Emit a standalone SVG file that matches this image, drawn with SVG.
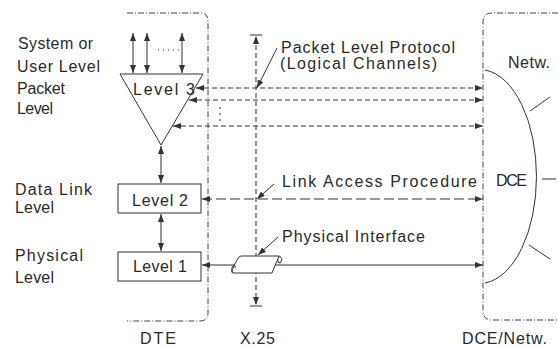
<svg xmlns="http://www.w3.org/2000/svg" width="558" height="348" viewBox="0 0 558 348">
<style>
text{font-family:"Liberation Sans",Arial,sans-serif;font-size:16px;fill:#2a2a2a}
.ln{fill:none;stroke:#333;stroke-width:1}
.dd{fill:none;stroke:#444;stroke-width:1;stroke-dasharray:6 2 1 2}
.ds{fill:none;stroke:#333;stroke-width:1;stroke-dasharray:5 3}
.dl{fill:none;stroke:#333;stroke-width:1;stroke-dasharray:10 4}
.box{fill:#fff;stroke:#333;stroke-width:1}
</style>
<defs>
<marker id="ah" viewBox="0 0 8 6" refX="8" refY="3" markerWidth="8" markerHeight="6" markerUnits="userSpaceOnUse" orient="auto-start-reverse">
<path d="M0,0 L8,3 L0,6 z" fill="#333"/>
</marker>
</defs>
<rect width="558" height="348" fill="#fff"/>

<g id="dte">
<path class="dd" d="M127,13 H200 Q208,13 208,21 V313 Q208,321 200,321 H127"/>
<text x="140" y="344" textLength="36">DTE</text>
</g>
<g id="dce-netw">
<path class="dd" d="M558,13 H492 Q483,13 483,22 V311 Q483,320 492,320 H558"/>
<text x="462" y="344" textLength="85">DCE/Netw.</text>
<text x="508" y="68" textLength="42">Netw.</text>
</g>

<g id="labels">
<text x="18" y="49" textLength="75">System or</text>
<text x="17" y="72" textLength="83">User Level</text>
<text x="17" y="94" textLength="48">Packet</text>
<text x="17" y="114" textLength="36">Level</text>
<text x="15" y="195" textLength="77">Data Link</text>
<text x="15" y="213" textLength="39">Level</text>
<text x="15" y="261" textLength="68">Physical</text>
<text x="15" y="283" textLength="39">Level</text>
<text x="281" y="53" textLength="174">Packet Level Protocol</text>
<text x="280" y="69" textLength="157">(Logical Channels)</text>
<text x="282" y="187" textLength="195">Link Access Procedure</text>
<text x="282" y="242" textLength="143">Physical Interface</text>
<text x="240" y="344" textLength="35">X.25</text>
</g>

<g id="x25">
<path class="ds" d="M256,37 V304"/>
<path class="ln" d="M250,35 H262 M250,306 H262"/>
<path d="M256,36 L253,44 L259,44 z M256,305 L253,297 L259,297 z" fill="#333"/>
</g>

<g id="connectors">
<path class="ln" d="M133,33 V73" marker-start="url(#ah)" marker-end="url(#ah)"/>
<path class="ln" d="M147,33 V73" marker-start="url(#ah)" marker-end="url(#ah)"/>
<path class="ln" d="M182,33 V73" marker-start="url(#ah)" marker-end="url(#ah)"/>
<path class="ln" d="M158,50 h1 M163,50 h1 M168,50 h1 M173,50 h1 M178,50 h1" stroke-width="1.5"/>
<path class="ln" d="M161,146 V183" marker-start="url(#ah)" marker-end="url(#ah)"/>
<path class="ln" d="M161,214 V251" marker-start="url(#ah)" marker-end="url(#ah)"/>
<path class="ds" d="M196,88 H483" marker-start="url(#ah)" marker-end="url(#ah)"/>
<path class="ds" d="M189,100 H483" marker-start="url(#ah)" marker-end="url(#ah)"/>
<path class="ds" d="M173,126 H483" marker-start="url(#ah)" marker-end="url(#ah)"/>
<path class="ln" d="M220,107 v2 M220,113 v2 M220,119 v2" stroke-width="1.5"/>
<path class="dl" d="M202,199 H483" marker-start="url(#ah)" marker-end="url(#ah)"/>
<path class="ln" d="M202,265 H483" marker-start="url(#ah)" marker-end="url(#ah)"/>
<path class="ln" d="M277,48 L257,88" marker-end="url(#ah)"/>
<path class="ln" d="M274,184 L257,199" marker-end="url(#ah)"/>
<path class="ln" d="M278,237 L258,255" marker-end="url(#ah)"/>
</g>

<g id="level3">
<path class="ln" d="M120,74 H203 L161,145 Z"/>
<text x="133" y="95" textLength="62">Level 3</text>
</g>
<g id="level2">
<rect class="box" x="118" y="184" width="83" height="29"/>
<text x="132" y="206" textLength="56">Level 2</text>
</g>
<g id="level1">
<rect class="box" x="118" y="252" width="83" height="29"/>
<text x="133" y="272" textLength="54">Level 1</text>
</g>
<g id="physical-interface">
<path class="box" d="M241,256 H279 L272,273 H233 Q231,273 232,270 L237,260 Q239,256 241,256 Z"/>
<path class="ln" d="M279,256 Q284,258 280,263 Q277,263 278,260 M233,273 Q230,268 234,265 Q236,266 235,268"/>
</g>
<g id="dce">
<path class="ln" d="M485,70 A57,107 0 0 1 485,283"/>
<path class="ln" d="M530,111 L550,97 M542,179 H556 M529,245 L550,259"/>
<text x="496" y="186" textLength="31">DCE</text>
</g>
</svg>
